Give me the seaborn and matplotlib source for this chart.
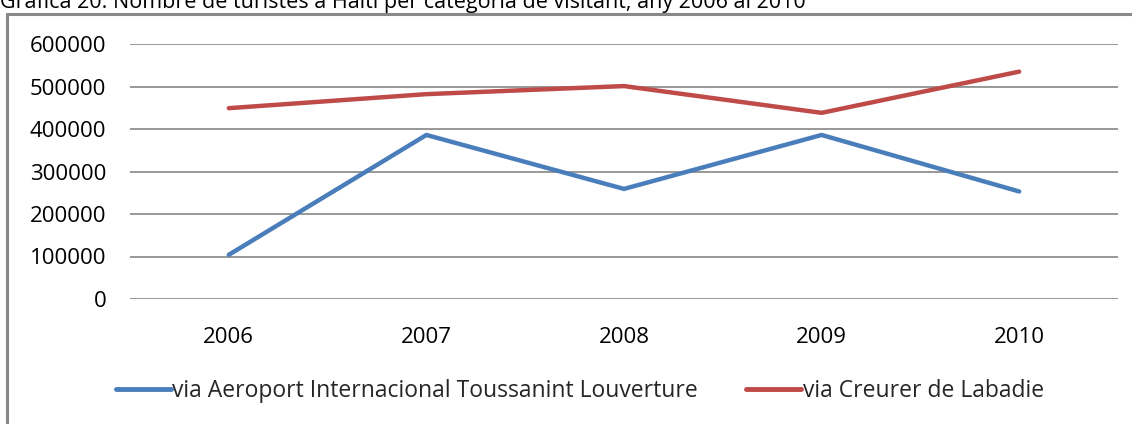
import matplotlib
matplotlib.use("Agg")
import matplotlib.pyplot as plt
import pandas as pd
import seaborn as sns

YEARS = ["2006", "2007", "2008", "2009", "2010"]
AIRPORT = [104000, 386000, 259000, 386000, 253000]
CRUISE = [449000, 482000, 501000, 438000, 535000]
SERIES = ["via Aeroport Internacional Toussanint Louverture", "via Creurer de Labadie"]
COLORS = ["#4a7ebb", "#be4b48"]
TITLE = "Gràfica 20. Nombre de turistes a Haití per categoria de visitant, any 2006 al 2010"

df = pd.DataFrame({
    "year": YEARS * 2,
    "value": AIRPORT + CRUISE,
    "serie": [SERIES[0]] * len(YEARS) + [SERIES[1]] * len(YEARS),
})

sns.set_theme(style="white")
plt.rcParams["font.family"] = ["Open Sans", "DejaVu Sans"]

fig = plt.figure(figsize=(11.32, 4.24), dpi=100)
ax = fig.add_axes([130 / 1132, 1 - 299 / 424, 988 / 1132, 255 / 424])

sns.lineplot(data=df, x="year", y="value", hue="serie", hue_order=SERIES,
             palette=COLORS, linewidth=3.2, ax=ax, legend=False, sort=False)

ax.set_xlim(-0.5, 4.5)
ax.set_ylim(0, 600000)
ax.set_yticks(range(0, 600001, 100000))
ax.set_yticklabels([str(v) for v in range(0, 600001, 100000)])
ax.yaxis.grid(True, color="#868686", linewidth=1.2)
ax.set_axisbelow(True)
for s in ax.spines.values():
    s.set_visible(False)
ax.tick_params(axis="both", length=0, labelsize=16, colors="black")
ax.tick_params(axis="y", pad=17)
ax.tick_params(axis="x", pad=20)
ax.set_xlabel("")
ax.set_ylabel("")

# legend
handles = [plt.Line2D([], [], color=c, linewidth=3.5) for c in COLORS]
fig.legend(handles, SERIES, loc="center", bbox_to_anchor=(580 / 1132, 1 - 391 / 424),
           ncol=2, frameon=False, fontsize=16.5, handlelength=2.4, handletextpad=0.05,
           columnspacing=2.1)

# outer chart border (left and top)
fig.add_artist(plt.Line2D([7 / 1132, 7 / 1132], [0, 1 - 14 / 424], transform=fig.transFigure,
                          color="#888888", linewidth=2.2))
fig.add_artist(plt.Line2D([7 / 1132, 1], [1 - 14 / 424, 1 - 14 / 424], transform=fig.transFigure,
                          color="#888888", linewidth=2.2))

fig.text(0.0, 1 - 8 / 424, TITLE, ha="left", va="baseline", fontsize=15.5, color="black")

fig.savefig("out.png", dpi=100, facecolor="white")
